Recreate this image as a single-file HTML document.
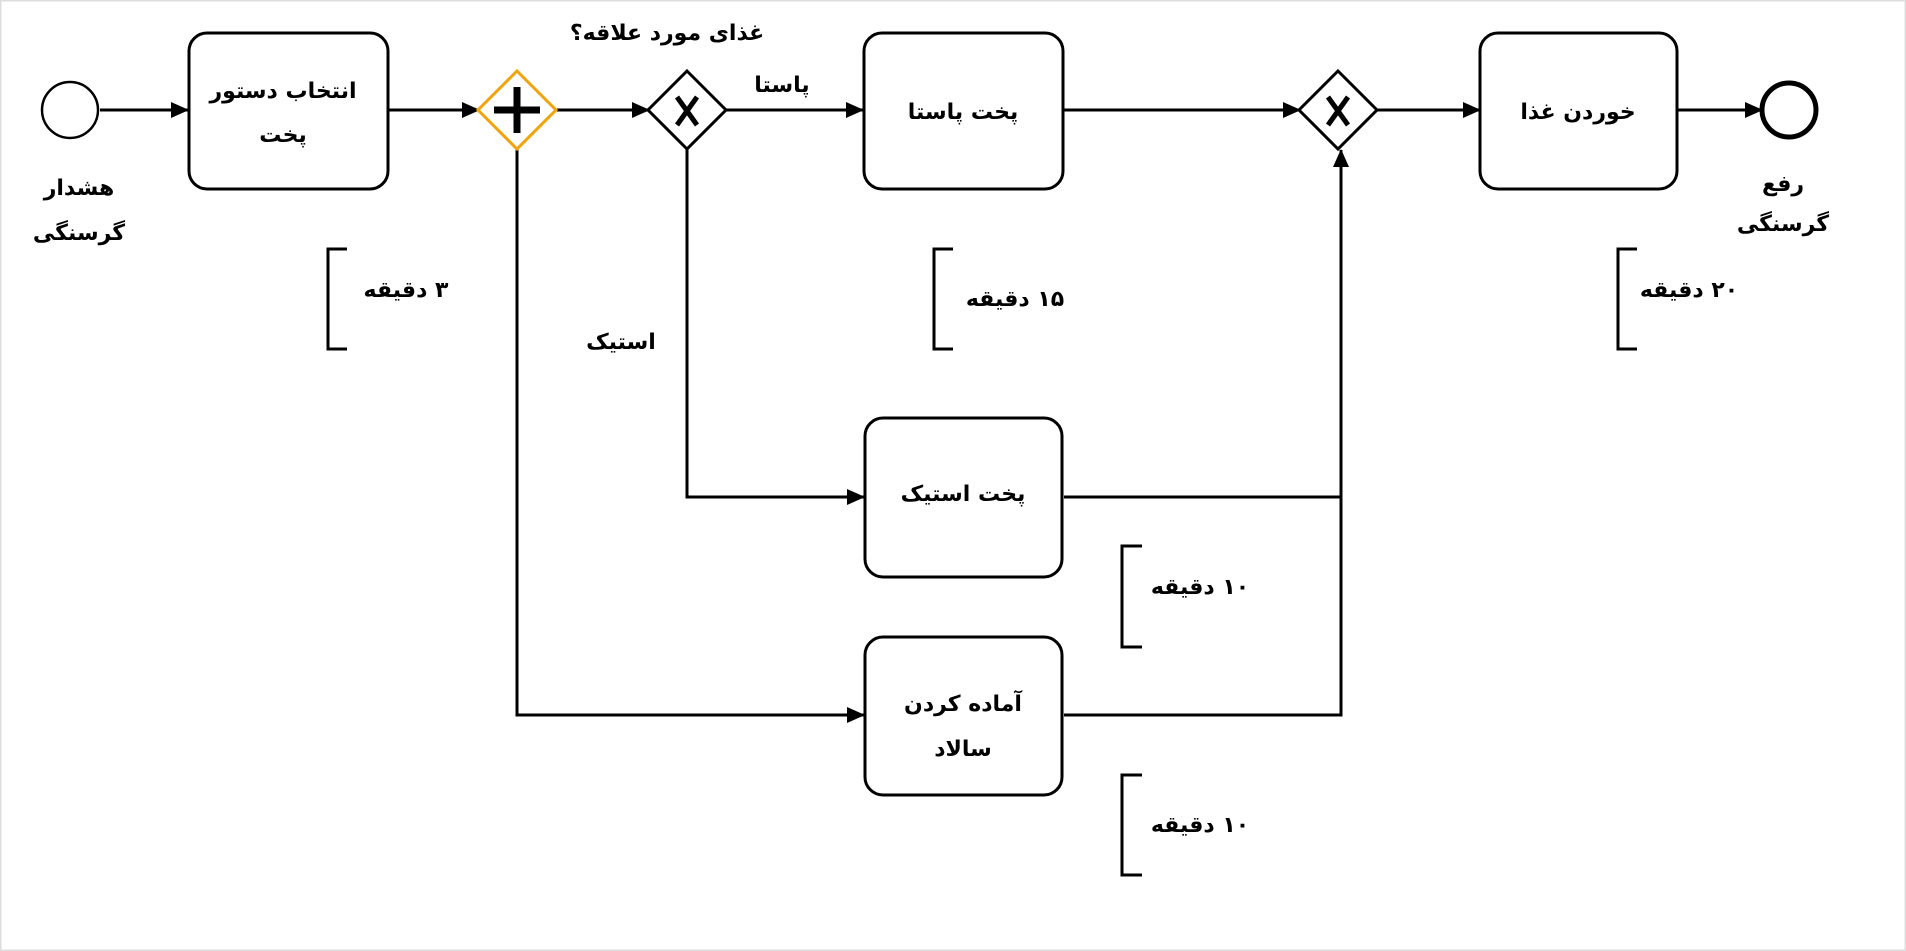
<!DOCTYPE html>
<html><head><meta charset="utf-8"><style>
html,body{margin:0;padding:0;background:#fff;}
svg{display:block;}
text{font-family:"DejaVu Sans","Noto Sans CJK SC",sans-serif;font-weight:bold;font-size:22px;fill:#000;}
</style></head><body>
<svg width="1906" height="951" viewBox="0 0 1906 951" xmlns="http://www.w3.org/2000/svg">
<defs>
<marker id="a" markerWidth="18" markerHeight="16" refX="17" refY="8" orient="auto" markerUnits="userSpaceOnUse">
<path d="M0,0 L18,8 L0,16 z" fill="#000"/>
</marker>
</defs>
<rect x="0.5" y="0.5" width="1905" height="950" fill="none" stroke="#ddd" stroke-width="2"/>
<g fill="none" stroke="#000" stroke-width="3">
<line x1="100" y1="110" x2="188" y2="110" marker-end="url(#a)"/>
<line x1="389" y1="110" x2="479" y2="110" marker-end="url(#a)"/>
<line x1="556" y1="110" x2="649" y2="110" marker-end="url(#a)"/>
<line x1="726" y1="110" x2="863" y2="110" marker-end="url(#a)"/>
<line x1="1064" y1="110" x2="1300" y2="110" marker-end="url(#a)"/>
<line x1="1377" y1="110" x2="1480" y2="110" marker-end="url(#a)"/>
<line x1="1677" y1="110" x2="1762" y2="110" marker-end="url(#a)"/>
<polyline points="687,149 687,497 864,497" marker-end="url(#a)"/>
<polyline points="517,149 517,715 864,715" marker-end="url(#a)"/>
<polyline points="1064,497 1341,497"/>
<polyline points="1064,715 1341,715 1341,497 1341,150" marker-end="url(#a)"/>
<rect x="189" y="33" width="199" height="156" rx="18"/>
<rect x="864" y="33" width="199" height="156" rx="18"/>
<rect x="865" y="418" width="197" height="159" rx="18"/>
<rect x="865" y="637" width="197" height="158" rx="18"/>
<rect x="1480" y="33" width="197" height="156" rx="18"/>
<circle cx="70" cy="110" r="28" stroke-width="2.5"/>
<circle cx="1789" cy="110" r="27" stroke-width="5"/>
<polygon points="517,71 556,110 517,149 478,110" stroke="#f0a30a" stroke-width="3"/>
<polygon points="687,71 726,110 687,149 648,110"/>
<polygon points="1338,71 1377,110 1338,149 1299,110"/>
<polyline points="347,249 328,249 328,349 347,349"/>
<polyline points="953,249 934,249 934,349 953,349"/>
<polyline points="1637,249 1618,249 1618,349 1637,349"/>
<polyline points="1142,546 1122,546 1122,647 1142,647"/>
<polyline points="1142,775 1122,775 1122,875 1142,875"/>
</g>
<g stroke="#000" stroke-width="7">
<line x1="517" y1="87" x2="517" y2="133"/><line x1="494" y1="110" x2="540" y2="110"/>
</g>
<g stroke="#000" stroke-width="5">
<line x1="677" y1="97" x2="697" y2="125"/><line x1="697" y1="97" x2="677" y2="125"/>
<line x1="1328" y1="97" x2="1348" y2="125"/><line x1="1348" y1="97" x2="1328" y2="125"/>
</g>
<g text-anchor="middle" direction="rtl">
<text x="283" y="98">انتخاب دستور</text>
<text x="283" y="142">پخت</text>
<text x="79" y="195">هشدار</text>
<text x="79" y="240">گرسنگی</text>
<text x="667" y="40">غذای مورد علاقه؟</text>
<text x="782" y="92">پاستا</text>
<text x="621" y="349">استیک</text>
<text x="963" y="119">پخت پاستا</text>
<text x="963" y="501">پخت استیک</text>
<text x="963" y="711">آماده کردن</text>
<text x="963" y="756">سالاد</text>
<text x="1578" y="119">خوردن غذا</text>
<text x="1783" y="191">رفع</text>
<text x="1783" y="231">گرسنگی</text>
<text x="406" y="297">۳ دقیقه</text>
<text x="1015" y="306">۱۵ دقیقه</text>
<text x="1689" y="297">۲۰ دقیقه</text>
<text x="1200" y="594">۱۰ دقیقه</text>
<text x="1200" y="832">۱۰ دقیقه</text>
</g>
</svg>
</body></html>
